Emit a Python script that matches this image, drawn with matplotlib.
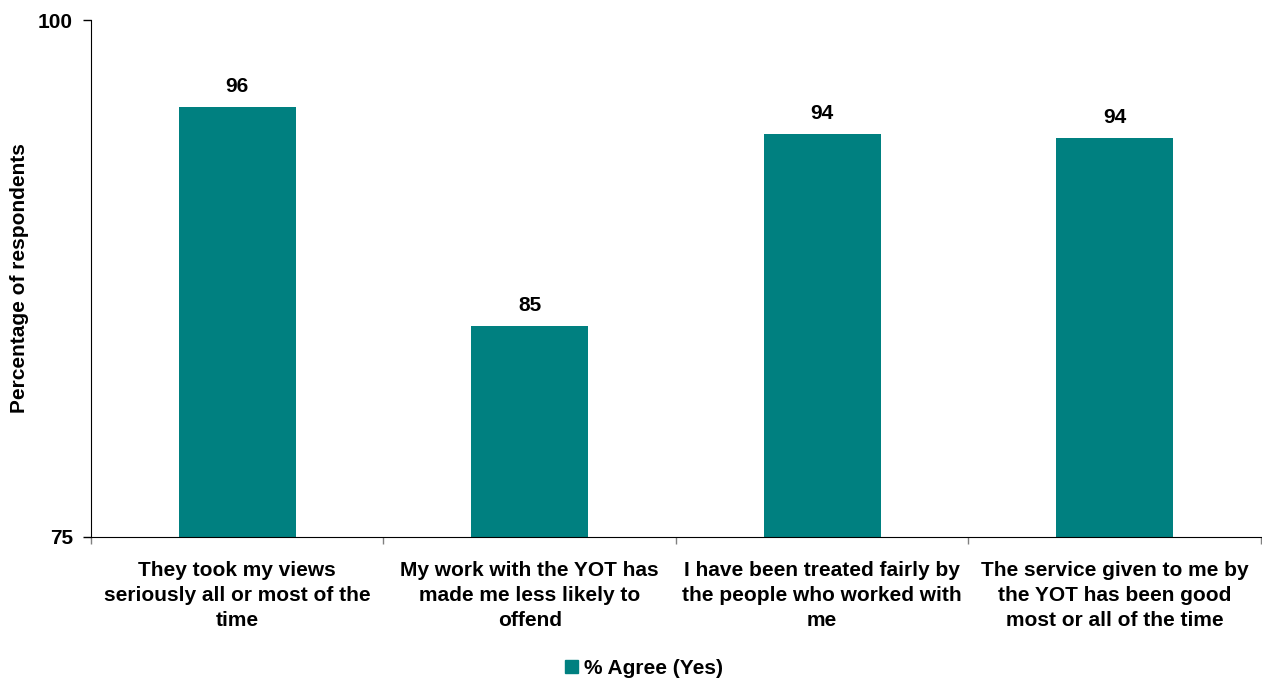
import matplotlib
matplotlib.use("Agg")
import matplotlib.pyplot as plt
from matplotlib.patches import Patch

categories = [
    "They took my views\nseriously all or most of the\ntime",
    "My work with the YOT has\nmade me less likely to\noffend",
    "I have been treated fairly by\nthe people who worked with\nme",
    "The service given to me by\nthe YOT has been good\nmost or all of the time",
]
values = [95.8, 85.2, 94.5, 94.3]
series_name = "% Agree (Yes)"
color = "#008080"

plt.rcParams['font.family'] = ['Liberation Sans', 'DejaVu Sans']
plt.rcParams['font.weight'] = 'bold'
FS = 15

fig = plt.figure(figsize=(12.62, 6.81), dpi=100)
ax = fig.add_axes([0.0721, 0.2115, 0.9269, 0.7591])

x = list(range(len(categories)))
ax.bar(x, values, width=0.4, color=color, bottom=0)
ax.set_xlim(-0.5, len(categories) - 0.5)
ax.set_ylim(75, 100)
ax.set_yticks([75, 100])
ax.set_yticklabels(["75", "100"], fontsize=FS, fontweight='bold')
ax.tick_params(axis='y', direction='out', length=6, width=1, pad=7)

ax.set_xticks([i - 0.5 for i in range(len(categories) + 1)])
ax.set_xticklabels([])
ax.tick_params(axis='x', direction='out', length=5, width=1, color='#808080')
for i, lab in enumerate(categories):
    ax.text(i, -0.047, lab, transform=ax.get_xaxis_transform(), ha='center', va='top',
            fontsize=FS, fontweight='bold', linespacing=1.4)

for i, v in enumerate(values):
    ax.annotate(f"{round(v):d}", (i, v), xytext=(0, 8), textcoords='offset points',
                ha='center', va='bottom', fontsize=FS, fontweight='bold')

ax.spines['top'].set_visible(False)
ax.spines['right'].set_visible(False)
ax.spines['left'].set_color('black')
ax.spines['bottom'].set_color('black')
ax.set_ylabel("Percentage of respondents", fontsize=FS, fontweight='bold')
ax.yaxis.set_label_coords(-0.053, 0.5)

fig.legend(handles=[Patch(color=color, label=series_name)], loc='center',
           bbox_to_anchor=(0.5105, 0.019), frameon=False,
           handlelength=0.6, handleheight=0.6, handletextpad=0.3,
           prop={'weight': 'bold', 'size': FS})

fig.savefig("out.png", dpi=100)
